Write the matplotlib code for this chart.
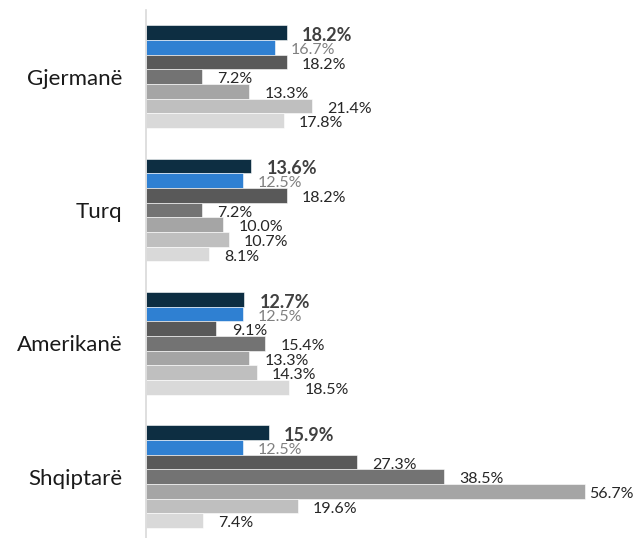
import matplotlib.pyplot as plt
import numpy as np
from matplotlib.transforms import offset_copy

plt.rcParams['font.family'] = ['Lato', 'DejaVu Sans']

categories = ['Gjermanë', 'Turq', 'Amerikanë', 'Shqiptarë']
s1 = [18.2, 13.6, 12.7, 15.9]
s2 = [16.7, 12.5, 12.5, 12.5]
s3 = [18.2, 18.2, 9.1, 27.3]
s4 = [7.2, 7.2, 15.4, 38.5]
s5 = [13.3, 10.0, 13.3, 56.7]
s6 = [21.4, 10.7, 14.3, 19.6]
s7 = [17.8, 8.1, 18.5, 7.4]
series = [s1, s2, s3, s4, s5, s6, s7]

colors = ['#0d2e42', '#2f80d2', '#595959', '#737373', '#a5a5a5', '#bfbfbf', '#d9d9d9']
label_colors = ['#404040', '#808080', '#262626', '#262626', '#262626', '#262626', '#262626']

fig = plt.figure(figsize=(6.42, 5.38), dpi=100)
ax = fig.add_axes([146 / 642, 0, 1 - 146 / 642, 528 / 538])

h = 0.11
y = np.arange(len(categories))
maxval = max(max(s) for s in series)
for i, s in enumerate(series):
    pos = y - 3 * h + i * h
    ax.barh(pos, s, height=h, color=colors[i], edgecolor='white', linewidth=0.4)
    for yy, v in zip(pos, s):
        pad = 11 if v < maxval else 3
        tr = offset_copy(ax.transData, fig=fig, x=pad, y=-2, units='points')
        if i == 0:
            ax.text(v, yy, '%.1f%%' % v, transform=tr, va='center', ha='left',
                    fontsize=13, fontweight='bold', color=label_colors[i])
        else:
            ax.text(v, yy, '%.1f%%' % v, transform=tr, va='center', ha='left',
                    fontsize=11.5, color=label_colors[i])

ax.set_ylim(3.46, -0.5)
ax.set_xlim(0, 64.1)
ax.set_yticks(y)
ax.set_yticklabels(categories, fontsize=16, color='#1a1a1a')
ax.tick_params(axis='y', length=0, pad=17)
ax.set_xticks([])
for sp in ['top', 'right', 'bottom']:
    ax.spines[sp].set_visible(False)
ax.spines['left'].set_color('#d9d9d9')
ax.spines['left'].set_linewidth(1.2)

fig.savefig('out.png', dpi=100)
